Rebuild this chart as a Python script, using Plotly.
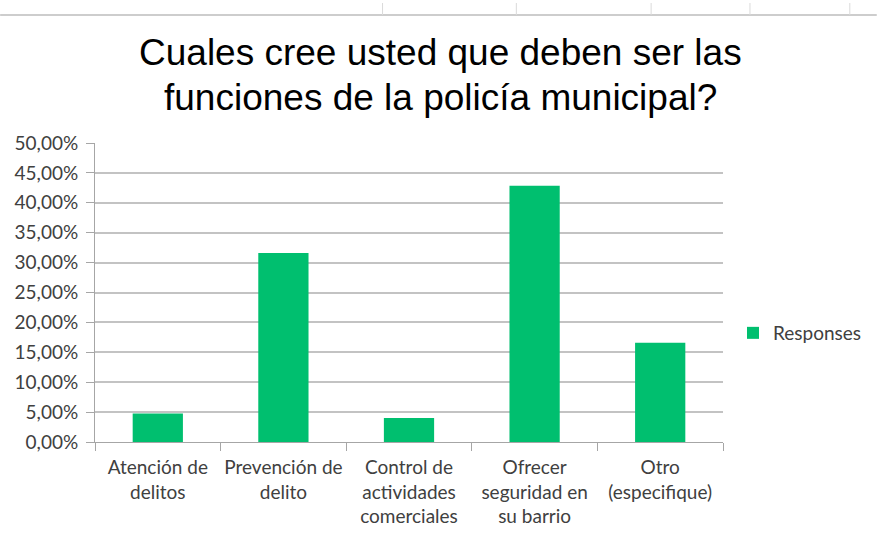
import plotly.graph_objects as go

categories = [
    "Atención de<br>delitos",
    "Prevención de<br>delito",
    "Control de<br>actividades<br>comerciales",
    "Ofrecer<br>seguridad en<br>su barrio",
    "Otro<br>(especifique)",
]
responses = [4.76, 31.6, 4.0, 42.85, 16.6]
y_tick_values = [0, 5, 10, 15, 20, 25, 30, 35, 40, 45, 50]
y_tick_labels = ["0,00%", "5,00%", "10,00%", "15,00%", "20,00%", "25,00%",
                 "30,00%", "35,00%", "40,00%", "45,00%", "50,00%"]
series_name = "Responses"
title_lines = ["Cuales cree usted que deben ser las", "funciones de la policía municipal?"]

W, H = 878, 540
L, R, T, B = 95, 154, 143, 98
PW, PH = W - L - R, H - T - B

def px_x(x):
    return (x - L) / PW

def px_y(y):
    return (H - B - y) / PH

GREEN = "#00BF6F"
GRID = "#C3C3C3"
AXIS = "#A6A6A6"
TXT = "#404040"
FONT = "Lato"

fig = go.Figure()
fig.add_trace(go.Bar(
    x=categories, y=responses, name=series_name,
    marker=dict(color=GREEN, line=dict(width=0)),
    showlegend=True,
))

shapes = []
# spreadsheet grid remnants at the top
shapes.append(dict(type="line", xref="paper", yref="paper",
                   x0=px_x(0), x1=px_x(W), y0=px_y(15), y1=px_y(15),
                   line=dict(color="#CDCDCD", width=2)))
for vx in [383, 517, 652, 751, 851]:
    shapes.append(dict(type="line", xref="paper", yref="paper",
                       x0=px_x(vx), x1=px_x(vx), y0=px_y(3), y1=px_y(15),
                       line=dict(color="#DADADA", width=1)))

annotations = []
for line, yc in zip(title_lines, [52, 97]):
    annotations.append(dict(
        text=line, xref="paper", yref="paper", x=px_x(441), y=px_y(yc),
        xanchor="center", yanchor="middle", showarrow=False,
        font=dict(family="Liberation Sans, Arial", size=37, color="#000000"),
    ))

fig.update_layout(
    width=W, height=H,
    margin=dict(l=L, r=R, t=T, b=B, pad=0),
    paper_bgcolor="white", plot_bgcolor="white",
    bargap=0.6,
    font=dict(family=FONT, size=19, color=TXT),
    showlegend=True,
    legend=dict(x=px_x(733), y=px_y(333), xanchor="left", yanchor="middle",
                font=dict(family=FONT, size=19, color=TXT),
                bgcolor="rgba(0,0,0,0)"),
    shapes=shapes,
    annotations=annotations,
)
fig.update_xaxes(
    type="category", showgrid=False, showline=True, linecolor=AXIS, linewidth=1,
    ticks="outside", ticklen=8, tickcolor=AXIS, tickson="boundaries",
    ticklabelstandoff=8,
    tickfont=dict(family=FONT, size=19, color=TXT), tickangle=0,
)
fig.update_yaxes(
    range=[0, 50], tickvals=y_tick_values, ticktext=y_tick_labels,
    showgrid=True, gridcolor=GRID, gridwidth=1.5,
    showline=True, linecolor=AXIS, linewidth=1,
    ticks="outside", ticklen=8, tickcolor=AXIS,
    ticklabelstandoff=4,
    tickfont=dict(family=FONT, size=19, color=TXT),
    zeroline=False,
)

fig.write_html(
    "out.html",
    config={"displayModeBar": False},
    post_script="document.body.style.margin='0';document.body.style.overflow='hidden';",
)
